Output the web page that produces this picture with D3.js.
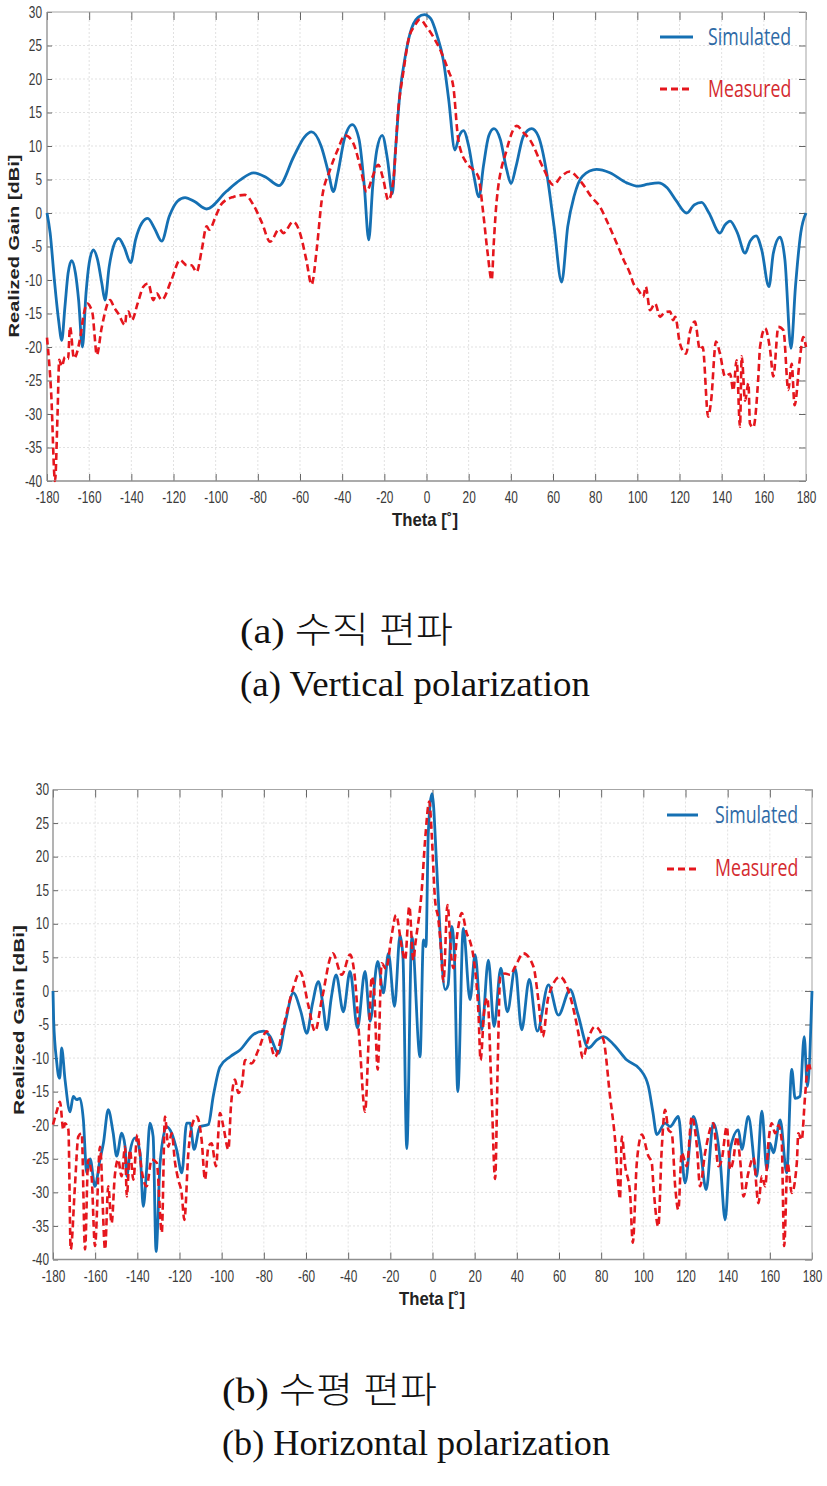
<!DOCTYPE html>
<html><head><meta charset="utf-8">
<script src="https://cdn.jsdelivr.net/npm/d3@7"></script>
<style>
html,body{margin:0;padding:0;background:#fff;}
svg{display:block;}
</style></head><body>
<svg id="fig" width="827" height="1486"></svg>
<script>
// ---------------- DATA ----------------
const thetaTicks = [-180,-160,-140,-120,-100,-80,-60,-40,-20,0,20,40,60,80,100,120,140,160,180];
const gainTicks = [-40,-35,-30,-25,-20,-15,-10,-5,0,5,10,15,20,25,30];
const seriesNames = ["Simulated", "Measured"];
const xTitle = "Theta [˚]";
const yTitle = "Realized Gain [dBi]";
const captionsA = ["(a) 수직 편파", "(a) Vertical polarization"];
const captionsB = ["(b) 수평 편파", "(b) Horizontal polarization"];

// (a) Vertical polarization : [theta, gain]
const vertSimulated = [
[-180,0],[-178.5,-3],[-176.5,-10],[-174.5,-16],[-173,-19],[-171.5,-14],[-170,-9],[-168.3,-7.1],
[-166.5,-9],[-165,-13],[-163.2,-20],[-161.5,-12],[-160,-7.5],[-158,-5.5],[-156,-7],[-154,-10.5],
[-152.5,-13],[-150.5,-8],[-148.5,-5],[-146,-3.8],[-143.5,-5],[-140.3,-7.4],[-138,-4],[-135,-1.5],
[-132.2,-0.8],[-129,-2.3],[-125.6,-4.2],[-122,-0.5],[-118,1.8],[-114.5,2.3],[-110,1.7],[-104.3,0.6],
[-95,3.2],[-88.5,4.9],[-82,6.0],[-76,5.3],[-70,4.1],[-63,8.4],[-58,11.3],[-54.5,12.1],[-50,10],
[-46.5,6],[-44.2,3.2],[-42,6],[-39,11],[-35.2,13.2],[-32,11],[-29.5,4],[-27.4,-4],[-25.5,4],
[-23.5,9.5],[-21,11.6],[-18.5,8],[-16.2,2.9],[-14.8,9],[-12.6,17.9],[-10,23.5],[-7.8,26.8],
[-4,29.2],[-1,29.6],[2,29],[5,26.5],[8,22.8],[10.5,17],[13.5,9.4],[15.5,11.5],[17.5,12.3],
[20,10],[22.5,5.5],[24.9,2.4],[27,7],[29.5,11.5],[32,12.6],[35,11],[38,6.5],[40.1,4.4],[42.5,7],
[46,11.5],[49.9,12.6],[53,11.5],[57,6],[60.5,-2],[64.1,-10.3],[67,-2],[70,2.5],[74,5.5],[80.7,6.5],
[87,6],[95,4.5],[100.5,4.0],[105,4.3],[110,4.5],[114,3.8],[118.5,1.8],[123.4,0],[127,1.2],
[130.5,1.6],[134,0],[139.2,-3.0],[141.5,-1.8],[144,-1.2],[147.5,-3],[151.1,-6.0],[153.5,-4.2],
[156.3,-3.4],[159,-5.5],[162.4,-11.0],[164.5,-6],[167.7,-3.6],[170,-7],[172.9,-20.2],[175,-11],
[177.5,-3],[180,0]
];
const vertMeasured = [
[-180,-18.6],[-178,-27],[-176.2,-40],[-175,-30],[-174.2,-21.9],[-173,-22.9],[-171.5,-21.5],
[-170,-21.8],[-169.1,-17.0],[-167.2,-21.7],[-164.3,-18.7],[-162.5,-15],[-160.9,-13.5],[-159.5,-14],
[-158.3,-15.2],[-157.5,-18],[-156.4,-21.2],[-154,-17],[-150.1,-13],[-148,-14.2],[-146.2,-15],
[-143,-16.7],[-142.3,-15],[-141.4,-14.7],[-139.8,-16],[-137,-13.5],[-134.3,-11],[-132,-10.5],
[-129.6,-13],[-128,-12],[-125.6,-13],[-121,-10],[-116.9,-7],[-113.7,-7.8],[-111.5,-7.8],[-109,-8.8],
[-106.6,-5.5],[-104.3,-2.0],[-103,-2.5],[-100,-0.5],[-97.1,1.4],[-91.6,2.4],[-86.1,2.7],[-82.1,1.2],
[-78,-1.5],[-74.2,-4.3],[-69.8,-2.4],[-67.9,-3],[-63.2,-1.3],[-60,-3],[-57,-7],[-54.5,-10.7],
[-52.1,-5.5],[-49.7,1.9],[-45.8,6.4],[-42,9.5],[-38.7,11.6],[-34.7,10.4],[-31.5,7],[-28.4,3.2],
[-25.5,5.5],[-22.9,7.2],[-20.5,5],[-18.1,1.9],[-15.7,4.9],[-13.4,15.4],[-11,21],[-8.6,25.8],
[-5.5,28],[-3.1,28.9],[0,27.8],[3.2,26.3],[7,24],[10.3,21.3],[12.7,18.9],[15.1,10.9],[19.1,7.4],
[22,6.5],[24.6,5.4],[26.9,0],[29,-6],[30.9,-10],[32,-4],[33.3,1.9],[38,9.4],[42.8,13],[46,12],
[49.1,10.9],[55.4,6.7],[60.1,4.2],[64,5.5],[68,6.2],[71,5.5],[74.4,4.2],[78,2.5],[82.3,0.9],
[86,-1.5],[90.2,-4.5],[93.5,-7],[96.5,-9],[98.1,-10.5],[100.5,-11.5],[102.8,-12.5],[104,-11],
[106,-14.5],[108.4,-13.5],[110.8,-15.5],[113,-14.8],[115.5,-14.7],[117,-16],[118,-15.5],
[120.2,-19.5],[123.1,-21],[125,-17.7],[127.3,-16.2],[129.7,-20.4],[131,-20],[133.6,-30.4],
[135,-28],[137.3,-19.2],[139.2,-21],[141.6,-24.4],[144,-24],[145.5,-26.5],[147.1,-22],
[148.7,-31.9],[149.5,-21.4],[151.1,-28],[152.7,-25.4],[153.4,-31.4],[155,-32],[157.4,-24.4],
[158.2,-20],[160.6,-17.2],[163,-20.5],[164.5,-24.4],[166.9,-17],[169.3,-17.5],[171.6,-26.4],
[173.2,-22.5],[174.6,-28.7],[177,-22],[178.7,-18.5],[180,-20]
];

// (b) Horizontal polarization : [theta, gain]
const horzSimulated = [
[-180,0],[-179.7,-4.3],[-178.2,-10.7],[-177.5,-12.5],[-176.8,-13],[-175.9,-8.5],[-174.3,-13.2],
[-171.9,-18],[-170.4,-15.7],[-168.8,-16.2],[-167.2,-16],[-165.6,-19.2],[-164,-27.1],[-162.4,-25],
[-160.1,-29.1],[-157.7,-25.1],[-156.1,-22.7],[-153.8,-17.7],[-151.5,-21.1],[-149.8,-24.6],
[-147.4,-21.2],[-145.8,-23.2],[-145,-27.6],[-143.5,-24],[-141.1,-21.9],[-138.7,-24.1],
[-137.2,-32.1],[-135.6,-26.6],[-134,-19.7],[-132.5,-21.7],[-131.1,-38.8],[-129.2,-25.6],
[-126.1,-20.2],[-123.7,-21.2],[-121.3,-23.7],[-118.9,-27.1],[-116.6,-19.7],[-115,-19.7],
[-113.1,-23.6],[-110.3,-20.2],[-106.3,-19.9],[-104,-15.7],[-100.8,-11.3],[-96,-9.8],[-91.3,-8.8],
[-85,-6.5],[-80.2,-6.0],[-77,-6.8],[-73.1,-9.3],[-70,-5],[-66,-0.3],[-62.5,-3],[-59.6,-6.3],
[-57,-2],[-54.1,1.4],[-52,-2],[-50.2,-5.8],[-48,-1],[-45.7,2.4],[-42.3,-3.1],[-39.1,2.9],
[-35.6,-5.5],[-32,2.9],[-29.6,-4.5],[-26,4.4],[-23.3,-0.3],[-20.9,5.6],[-18,-2.3],[-15.4,8.3],
[-14,5],[-12.2,-23.5],[-9.8,8.1],[-5.9,-9.8],[-4.3,7.6],[-3.1,6.6],[-2,23.5],[-0.2,29.4],
[2,18.5],[3.6,8.6],[6,0.2],[7.4,0.9],[9.1,9.6],[10.3,6],[12,-15],[14.6,9.3],[17.8,-1.3],
[20.2,5.4],[23.4,-5.8],[26.5,4.6],[29.2,-5.3],[32.4,3.4],[35.5,-3.1],[39.2,3.4],[42.3,-5.8],
[45.9,1.7],[49.7,-6.0],[55,0.9],[59.7,-3.6],[65.3,0.2],[69,-3.5],[74,-8.5],[78,-7.3],[81.1,-6.8],
[86,-8],[92.2,-10.3],[98.5,-11.7],[102.4,-14.2],[104.5,-18],[106.4,-21.4],[110.3,-19.7],
[112.7,-20.2],[116.6,-18.7],[119.8,-28.6],[123.7,-18.7],[126.9,-23.2],[129.8,-29.6],[133.2,-19.7],
[136.4,-25.1],[138.8,-34.1],[141.2,-23.6],[145.1,-20.7],[146.7,-23.6],[149.8,-18.7],[153.8,-27.6],
[156.2,-17.9],[158.6,-26.6],[160.1,-22.7],[161.7,-24.1],[164.9,-19.2],[168,-27.1],[170.4,-11.7],
[172,-16],[174.3,-15.7],[176.3,-6.8],[177.8,-14.2],[180,0]
];
const horzMeasured = [
[-180,-19.9],[-178.2,-17.9],[-176.7,-16.5],[-175.1,-20.7],[-174.3,-19.7],[-172.7,-20.7],
[-171.6,-38.5],[-169.6,-29.1],[-168,-21.7],[-166.4,-21.2],[-164.8,-38.5],[-163.3,-25.1],
[-161.7,-27.6],[-160.1,-38],[-157.7,-23.2],[-155.3,-38.5],[-153.8,-29.1],[-152.2,-34.6],
[-150.7,-27.6],[-149.1,-25.1],[-147.5,-27.6],[-145.8,-23.2],[-145,-30.6],[-143.5,-23.7],
[-141.9,-28.1],[-140,-21.4],[-138,-26.6],[-135.6,-29.1],[-133.2,-25.1],[-130.8,-25.6],
[-128.4,-36],[-126.9,-18.7],[-125.3,-23.2],[-123.7,-21.2],[-122.1,-25.6],[-120.6,-28.1],
[-119,-30.1],[-117.7,-34.1],[-115.8,-24.1],[-114.2,-20.2],[-111.8,-18.7],[-109.5,-22.2],
[-107.9,-28.1],[-106.3,-23.2],[-104.8,-22.7],[-102.7,-26.1],[-100.8,-18.2],[-99.2,-20.2],
[-96.8,-23.6],[-95.6,-17.2],[-93.7,-13.2],[-92.1,-15.2],[-90.5,-14.2],[-88.9,-10.3],[-85.8,-10.8],
[-82.6,-8.8],[-78.6,-6],[-74.7,-9.8],[-70.7,-5.3],[-66,0.5],[-62.8,2.9],[-59,-2],[-55.7,-6],
[-52.5,-1.3],[-47.3,5.6],[-43,2.4],[-39.1,5.4],[-37,2.5],[-34.5,-8],[-32,-18],[-30,-5],
[-28.8,2.1],[-27.8,0.6],[-26,-11.7],[-24.1,4.1],[-22,3.3],[-19.5,8],[-17.3,11.3],[-14.6,6.6],
[-13,4.6],[-11,12.6],[-9.1,4.6],[-8.1,7.1],[-5.1,15],[-3.5,22.5],[-1.5,28.2],[-0.4,23.5],
[1.2,13.6],[2.8,10.6],[3.6,8.0],[5.2,1.4],[7.1,12.8],[9.1,4.6],[9.9,3.4],[11.8,8.6],[13.9,11.6],
[16.2,8.6],[17.8,7.4],[19.4,5.1],[21.8,-3.3],[22.8,-10.3],[24.5,-3],[26,-1],[28,-15],[29.7,-28],
[31,-10],[32.1,2.1],[34.4,2.6],[36.8,2.4],[39.2,3.6],[43.1,5.6],[47.9,3.6],[50.2,-1.3],[52.3,-6.8],
[55,-0.8],[60.5,2.1],[65.3,-0.8],[69.2,-6.3],[71.3,-10],[74,-7],[77.1,-5.3],[81.1,-7.3],
[84.2,-15.7],[86.6,-22.2],[88.2,-29.1],[88.9,-31],[89.8,-21.7],[91.4,-26.1],[93.7,-30.1],
[95,-37.5],[96.9,-25.6],[99.3,-21.4],[102.4,-24.6],[104,-25.6],[104.8,-29.1],[107.1,-35.1],
[108.7,-23.7],[110.3,-17.7],[111.9,-20.7],[113.5,-21.2],[115.1,-29.1],[116.6,-32.6],[118.2,-24.1],
[120.6,-26.1],[123,-18.7],[125.4,-23.2],[126.9,-29.1],[129.3,-24.1],[133.2,-19.7],[135.6,-26.1],
[137.2,-25.1],[139.6,-20.2],[141.2,-26.6],[142.7,-25.1],[144.3,-21.7],[145.9,-25.1],[147.5,-30.6],
[149.8,-27.1],[152.2,-24.8],[154.6,-31.6],[156.2,-27.6],[157.8,-29.1],[159.3,-22.7],[160.9,-19.7],
[162.5,-21.2],[164.1,-20],[165.6,-22.2],[166.8,-38],[168.4,-25.6],[170.4,-30.1],[172.8,-25.6],
[173.5,-21.2],[175.1,-22.2],[176.7,-15.7],[178.3,-10.7],[179.2,-11.7]
];

// ---------------- LAYOUT / STYLE ----------------
const BLUE = "#1570b3", RED = "#e5161d";
const SQ = 0.74; // horizontal squeeze of the original figure's text

const panels = [
  { sim: vertSimulated, meas: vertMeasured, captions: captionsA,
    left: 47, right: 806, top: 12, bottom: 481,
    xPad: 10.5, yPad: 5, xTitleX: 425, xTitleY: 526, yTitleX: 19, yTitleY: 246, yTitleLen: 183,
    legX1: 660, legX2: 693, legY: [37, 89], legTX: 708, legTY: [45, 97],
    capX: 240, capY: [643, 696], capW: [213, 350] },
  { sim: horzSimulated, meas: horzMeasured, captions: captionsB,
    left: 53, right: 812, top: 789.5, bottom: 1259.5,
    xPad: 11, yPad: 4, xTitleX: 432, xTitleY: 1305, yTitleX: 24, yTitleY: 1020, yTitleLen: 190,
    legX1: 667, legX2: 698, legY: [815, 869], legTX: 715, legTY: [823, 876],
    capX: 222, capY: [1403, 1455], capW: [215, 388] }
];

const svg = d3.select("#fig");
svg.append("rect").attr("width", 827).attr("height", 1486).attr("fill", "#fff");

panels.forEach(p => {
  const x = d3.scaleLinear().domain([-180, 180]).range([p.left, p.right]);
  const y = d3.scaleLinear().domain([-40, 30]).range([p.bottom, p.top]);
  const g = svg.append("g");

  // grid
  g.append("g").selectAll("line").data(thetaTicks.slice(1, -1)).join("line")
    .attr("x1", d => x(d)).attr("x2", d => x(d)).attr("y1", p.top).attr("y2", p.bottom)
    .attr("stroke", "#e1e1e1").attr("stroke-width", 1).attr("stroke-dasharray", "2,2");
  g.append("g").selectAll("line").data(gainTicks.slice(1, -1)).join("line")
    .attr("y1", d => y(d)).attr("y2", d => y(d)).attr("x1", p.left).attr("x2", p.right)
    .attr("stroke", "#e1e1e1").attr("stroke-width", 1).attr("stroke-dasharray", "2,2");

  const styleAxis = a => {
    a.select(".domain").remove();
    a.selectAll(".tick line").attr("stroke", "#666").attr("stroke-width", 1);
    a.attr("font-family", "'Liberation Sans', Arial, sans-serif").attr("font-size", 16);
    a.selectAll(".tick text").attr("fill", "#3a3a3a");
  };

  // bottom axis
  g.append("g").attr("transform", `translate(0,${p.bottom})`)
    .call(d3.axisBottom(x).tickValues(thetaTicks).tickSize(-7).tickPadding(p.xPad).tickFormat(d3.format("d")))
    .call(styleAxis)
    .call(a => a.selectAll(".tick text").attr("transform", `scale(${SQ},1)`).text(d => String(d)));
  // top axis (ticks only)
  g.append("g").attr("transform", `translate(0,${p.top})`)
    .call(d3.axisTop(x).tickValues(thetaTicks).tickSize(-8).tickFormat(""))
    .call(styleAxis);
  // left axis
  g.append("g").attr("transform", `translate(${p.left},0)`)
    .call(d3.axisLeft(y).tickValues(gainTicks).tickSize(-5).tickPadding(p.yPad).tickFormat(d3.format("d")))
    .call(styleAxis)
    .call(a => a.selectAll(".tick text").attr("x", -p.yPad / SQ).attr("transform", `scale(${SQ},1)`)
      .text(d => String(d)));
  // right axis (ticks only)
  g.append("g").attr("transform", `translate(${p.right},0)`)
    .call(d3.axisRight(y).tickValues(gainTicks).tickSize(-7).tickFormat(""))
    .call(styleAxis);

  // box
  g.append("line").attr("x1", p.left).attr("x2", p.right).attr("y1", p.top).attr("y2", p.top)
    .attr("stroke", "#a6a6a6").attr("stroke-width", 1.2);
  g.append("line").attr("x1", p.right).attr("x2", p.right).attr("y1", p.top).attr("y2", p.bottom)
    .attr("stroke", "#b3b3b3").attr("stroke-width", 1.2);
  g.append("line").attr("x1", p.left).attr("x2", p.right).attr("y1", p.bottom).attr("y2", p.bottom)
    .attr("stroke", "#8f8f8f").attr("stroke-width", 1.3);
  g.append("line").attr("x1", p.left).attr("x2", p.left).attr("y1", p.top).attr("y2", p.bottom)
    .attr("stroke", "#8a8a8a").attr("stroke-width", 1.3);

  // series
  const line = d3.line().x(d => x(d[0])).y(d => y(d[1])).curve(d3.curveMonotoneX);
  g.append("path").datum(p.sim).attr("d", line).attr("fill", "none")
    .attr("stroke", BLUE).attr("stroke-width", 2.8).attr("stroke-linejoin", "round");
  g.append("path").datum(p.meas).attr("d", line).attr("fill", "none")
    .attr("stroke", RED).attr("stroke-width", 2.6).attr("stroke-dasharray", "7,4")
    .attr("stroke-linejoin", "round");

  // legend
  const legColors = [BLUE, RED], legTextColors = ["#2e6aa6", "#d42a2f"];
  seriesNames.forEach((name, i) => {
    g.append("line").attr("x1", p.legX1).attr("x2", p.legX2).attr("y1", p.legY[i]).attr("y2", p.legY[i])
      .attr("stroke", legColors[i]).attr("stroke-width", 3)
      .attr("stroke-dasharray", i === 1 ? "7,4" : null);
    g.append("text").attr("transform", `translate(${p.legTX},${p.legTY[i]}) scale(${SQ},1)`)
      .attr("font-family", "'Open Sans', 'Noto Sans', sans-serif").attr("font-size", 24)
      .attr("fill", legTextColors[i]).text(name);
  });

  // axis titles
  g.append("text").attr("x", p.xTitleX).attr("y", p.xTitleY).attr("text-anchor", "middle")
    .attr("font-family", "'Liberation Sans', Arial, sans-serif").attr("font-weight", "bold")
    .attr("font-size", 19).attr("fill", "#222")
    .attr("textLength", 66).attr("lengthAdjust", "spacingAndGlyphs").text(xTitle);
  g.append("text").attr("transform", `translate(${p.yTitleX},${p.yTitleY}) rotate(-90) scale(1,0.8)`)
    .attr("text-anchor", "middle")
    .attr("font-family", "'Liberation Sans', Arial, sans-serif").attr("font-weight", "bold")
    .attr("font-size", 19).attr("fill", "#222")
    .attr("textLength", p.yTitleLen).attr("lengthAdjust", "spacingAndGlyphs").text(yTitle);

  // captions
  p.captions.forEach((c, i) => {
    svg.append("text").attr("x", p.capX).attr("y", p.capY[i])
      .attr("font-family", "'Liberation Serif', 'Times New Roman', 'Noto Sans CJK KR', serif")
      .attr("font-size", 36).attr("font-weight", i === 0 ? 300 : 400).attr("fill", "#111")
      .attr("textLength", p.capW[i]).attr("lengthAdjust", "spacingAndGlyphs").text(c);
  });
});
</script>
</body></html>
